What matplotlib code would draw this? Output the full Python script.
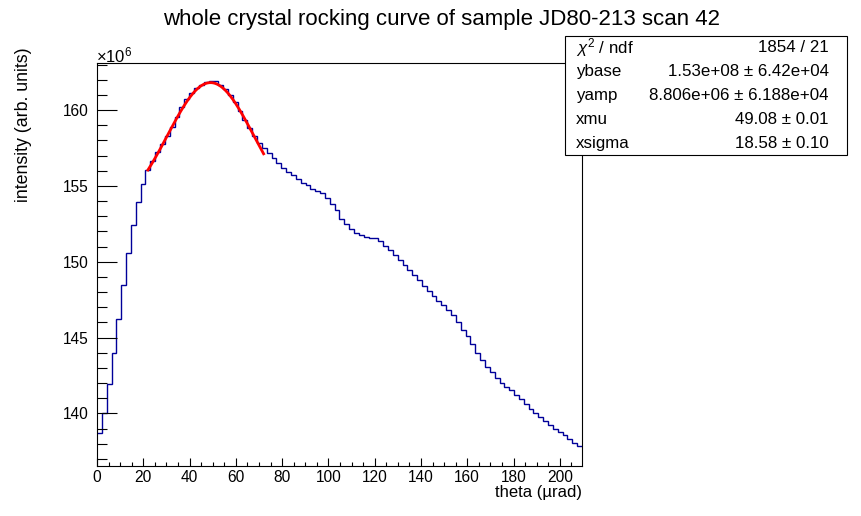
import numpy as np
import matplotlib
matplotlib.use("Agg")
import matplotlib.pyplot as plt
from matplotlib.patches import Rectangle
from matplotlib.ticker import MultipleLocator

plt.rcParams['font.family'] = ['Liberation Sans', 'DejaVu Sans']
plt.rcParams['mathtext.fontset'] = 'custom'
plt.rcParams['mathtext.rm'] = 'Liberation Sans'
plt.rcParams['mathtext.it'] = 'Liberation Sans:italic'

# histogram: 100 bins over theta, intensity in units of 1e6
theta_max = 209.6
n_bins = 100
intensity = [
    138.69, 140.05, 141.92, 143.96, 146.20, 148.44, 150.55, 152.40, 153.92, 155.10,
    156.03, 156.63, 157.20, 157.73, 158.31, 158.90, 159.54, 160.18, 160.70, 161.15,
    161.45, 161.67, 161.86, 161.93, 161.89, 161.67, 161.38, 161.01, 160.51, 159.95,
    159.34, 158.81, 158.31, 157.85, 157.47, 157.14, 156.81, 156.48, 156.15, 155.89,
    155.72, 155.43, 155.17, 155.03, 154.77, 154.64, 154.53, 154.18, 153.78, 153.39,
    152.84, 152.46, 152.13, 151.87, 151.74, 151.63, 151.56, 151.54, 151.34, 151.01,
    150.75, 150.42, 150.09, 149.76, 149.43, 149.10, 148.77, 148.38, 148.05, 147.76,
    147.43, 147.12, 146.79, 146.46, 146.00, 145.52, 145.08, 144.55, 143.96, 143.52,
    143.04, 142.71, 142.31, 141.98, 141.74, 141.54, 141.19, 140.93, 140.60, 140.27,
    140.00, 139.74, 139.48, 139.21, 138.95, 138.75, 138.58, 138.31, 138.03, 137.85,
]

# fit parameters as printed in the stat box
ybase = 1.53e8
yamp = 8.806e6
xmu = 49.08
xsigma = 18.58
fit_range = (22.0, 72.0)

stat_labels = [r"$\chi^{2}$ / ndf", "ybase", "yamp", "xmu", "xsigma"]
stat_values = ["1854 / 21",
               "1.53e+08 \u00b1 6.42e+04",
               "8.806e+06 \u00b1 6.188e+04",
               "49.08 \u00b1 0.01",
               "18.58 \u00b1 0.10"]

W, H = 862, 516
fig = plt.figure(figsize=(W / 100, H / 100), dpi=100)
ax = fig.add_axes([97 / W, 1 - 466 / H, 485 / W, 403 / H])

edges = np.linspace(0, theta_max, n_bins + 1)
ax.stairs(intensity, edges, color="#000099", linewidth=1.0, baseline=None)

# gaussian fit curve
xf = np.linspace(fit_range[0], fit_range[1], 300)
yf = ybase + yamp * np.exp(-0.5 * ((xf - xmu) / xsigma) ** 2)
ax.plot(xf, yf / 1e6, color="red", linewidth=2.0)

ax.set_xlim(0, theta_max)
ax.set_ylim(136.53, 163.10)

ax.xaxis.set_major_locator(MultipleLocator(20))
ax.xaxis.set_minor_locator(MultipleLocator(5))
ax.yaxis.set_major_locator(MultipleLocator(5))
ax.yaxis.set_minor_locator(MultipleLocator(1))
ax.tick_params(axis="both", which="both", direction="in", top=False, right=False,
               labelsize=11.2, width=0.8)
ax.tick_params(axis="x", which="major", length=6, pad=3)
ax.tick_params(axis="x", which="minor", length=3)
ax.tick_params(axis="y", which="major", length=14.4, pad=6)
ax.tick_params(axis="y", which="minor", length=7.2)
for s in ax.spines.values():
    s.set_linewidth(0.8)

fig.text(96 / W, 1 - 55 / H, r"$\times 10^{6}$", fontsize=12, ha="left", va="center")

fig.text(442 / W, 1 - 20 / H, "whole crystal rocking curve of sample JD80-213 scan 42",
         fontsize=16, ha="center", va="center")
fig.text(582 / W, 1 - 492 / H, "theta (\u00b5rad)", fontsize=12, ha="right", va="center")
fig.text(24 / W, 1 - 47 / H, "intensity (arb. units)", fontsize=12.8, rotation=90,
         ha="center", va="top")

# stat box
box = Rectangle((565 / W, 1 - 155 / H), 282 / W, 119 / H, transform=fig.transFigure,
                facecolor="white", edgecolor="black", linewidth=0.8, zorder=5)
fig.patches.append(box)
row_h = 119 / 5
for i, (lab, val) in enumerate(zip(stat_labels, stat_values)):
    yc = 1 - (36 + row_h * (i + 0.5)) / H
    fig.text(576 / W, yc, lab, fontsize=12.2, ha="left", va="center", zorder=6)
    fig.text(829 / W, yc, val, fontsize=12.2, ha="right", va="center", zorder=6)

fig.savefig("out.png", dpi=100)
